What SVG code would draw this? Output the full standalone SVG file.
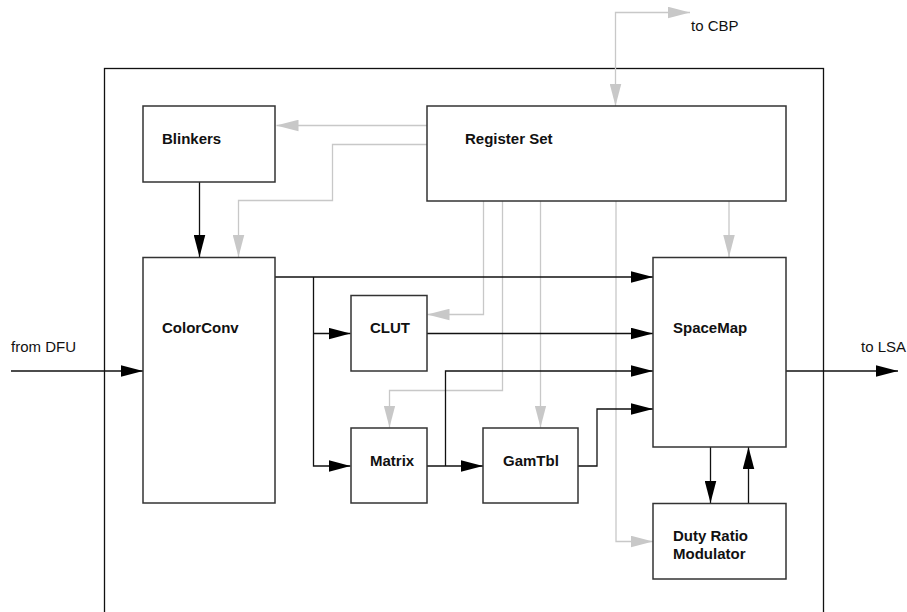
<svg xmlns="http://www.w3.org/2000/svg" width="907" height="612" viewBox="0 0 907 612">
<style>
.box{fill:#fff;stroke:#333;stroke-width:1.5}
.frame{fill:none;stroke:#111;stroke-width:1.3}
.lbl{font-family:"Liberation Sans",Arial,sans-serif;font-size:15px;font-weight:bold;fill:#111}
.ext{font-family:"Liberation Sans",Arial,sans-serif;font-size:15px;fill:#111}
.blk{fill:none;stroke:#111;stroke-width:1.3;marker-end:url(#ab)}
.gry{fill:none;stroke:#c8c8c8;stroke-width:1.3;marker-end:url(#ag)}
</style>
<defs>
<marker id="ab" markerUnits="userSpaceOnUse" markerWidth="22" markerHeight="12" viewBox="0 0 21 11" refX="21" refY="5.5" orient="auto"><path d="M0,0 L21,5.5 L0,11 z" fill="#000"/></marker>
<marker id="ag" markerUnits="userSpaceOnUse" markerWidth="22" markerHeight="12" viewBox="0 0 21 11" refX="21" refY="5.5" orient="auto-start-reverse"><path d="M0,0 L21,5.5 L0,11 z" fill="#c8c8c8"/></marker>
</defs>
<rect class="frame" x="104.5" y="68.5" width="719" height="600"/>
<g id="connectors">
<path class="gry" d="M615.5,106 V12.5 H690" marker-start="url(#ag)"/>
<path class="gry" d="M427,125.5 H276.5"/>
<path class="gry" d="M427,144.5 H332.5 V200.5 H238.5 V257"/>
<path class="gry" d="M483.5,201 V314.5 H427.5"/>
<path class="gry" d="M502.5,201 V390.5 H389.5 V427.5"/>
<path class="gry" d="M540.5,201 V427.5"/>
<path class="gry" d="M616,201 V541.5 H653"/>
<path class="gry" d="M729,201 V257"/>
<path class="blk" d="M199.5,182 V257"/>
<path class="blk" d="M11,371 H143"/>
<path class="blk" d="M275,277 H653"/>
<path class="blk" d="M313.5,277 V466 H350.5"/>
<path class="blk" d="M313.5,333.5 H350.5"/>
<path class="blk" d="M427,333.5 H653"/>
<path class="blk" d="M427,466 H483"/>
<path class="blk" d="M445.5,466 V371 H653"/>
<path class="blk" d="M578,466 H597 V409 H653"/>
<path class="blk" d="M786,371 H898"/>
<path class="blk" d="M710.5,447 V503"/>
<path class="blk" d="M748.5,503 V447"/>
</g>
<g id="blinkers"><rect class="box" x="143" y="106" width="132" height="76"/><text class="lbl" x="162" y="144">Blinkers</text></g>
<g id="register-set"><rect class="box" x="427" y="106" width="359" height="95"/><text class="lbl" x="465" y="144">Register Set</text></g>
<g id="colorconv"><rect class="box" x="143" y="257.5" width="132" height="245.5"/><text class="lbl" x="162" y="333">ColorConv</text></g>
<g id="clut"><rect class="box" x="351" y="295.5" width="76" height="75.5"/><text class="lbl" x="370" y="333">CLUT</text></g>
<g id="matrix"><rect class="box" x="351" y="428" width="76" height="75"/><text class="lbl" x="370" y="466">Matrix</text></g>
<g id="gamtbl"><rect class="box" x="483" y="428" width="95" height="75"/><text class="lbl" x="503" y="466">GamTbl</text></g>
<g id="spacemap"><rect class="box" x="653" y="257.5" width="133" height="189.5"/><text class="lbl" x="673" y="333">SpaceMap</text></g>
<g id="duty-ratio-modulator"><rect class="box" x="653" y="503.5" width="133" height="75.5"/><text class="lbl" x="673" y="541">Duty Ratio</text><text class="lbl" x="673" y="559">Modulator</text></g>
<g id="ext-labels">
<text class="ext" x="691" y="31">to CBP</text>
<text class="ext" x="11" y="352">from DFU</text>
<text class="ext" x="861" y="352">to LSA</text>
</g>
</svg>
